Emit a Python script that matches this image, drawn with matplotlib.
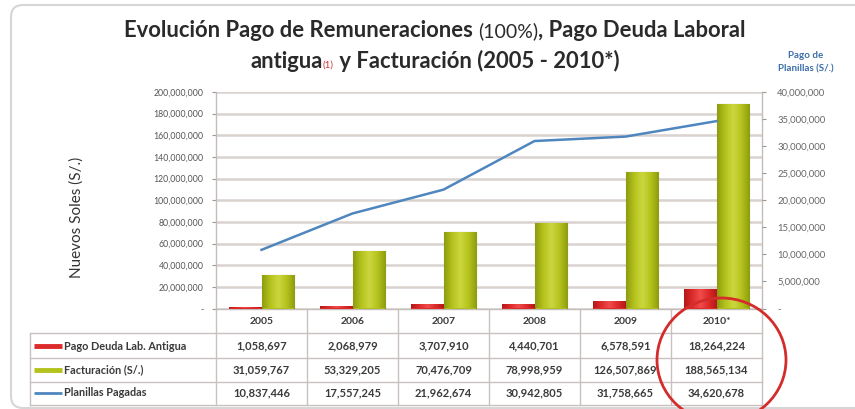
import matplotlib
matplotlib.use('Agg')
import numpy as np
import matplotlib.pyplot as plt
import matplotlib.transforms as mtransforms
from matplotlib.patches import Ellipse, FancyBboxPatch
from matplotlib.lines import Line2D
from matplotlib.colors import LinearSegmentedColormap
from matplotlib.ticker import FuncFormatter, MultipleLocator

plt.rcParams['font.family'] = ['Lato', 'DejaVu Sans']

years = ['2005', '2006', '2007', '2008', '2009', '2010*']
pago_deuda = [1058697, 2068979, 3707910, 4440701, 6578591, 18264224]
facturacion = [31059767, 53329205, 70476709, 78998959, 126507869, 188565134]
planillas = [10837446, 17557245, 21962674, 30942805, 31758665, 34620678]
series_labels = ['Pago Deuda Lab. Antigua', 'Facturación (S/.)', 'Planillas Pagadas']

RED = '#dd2a2a'
GREEN = '#b4c21c'
GREEN_EDGE = '#7d8c10'
BLUE = '#4f86bf'
GRID = '#d9d2cf'
TXT = '#3a3a3a'

W, H = 855, 409
fig = plt.figure(figsize=(W / 100, H / 100), dpi=100)
fig.patch.set_facecolor('white')


def fx(x):
    return x / W


def fy(y):
    return 1 - y / H


# outer rounded frame
frame = FancyBboxPatch((11, 1), 870, 403, boxstyle='round,pad=0,rounding_size=12',
                       transform=mtransforms.IdentityTransform(), facecolor='white',
                       edgecolor='#d6d6d6', linewidth=1.5, zorder=0)
fig.patches.append(frame)

ax = fig.add_axes([fx(216), fy(308.5), fx(762) - fx(216), fy(92) - fy(308.5)])
ax.set_zorder(2)
ax.patch.set_alpha(0)
x = list(range(len(years)))
bw = 0.36
red_bars = ax.bar([i - bw / 2 for i in x], pago_deuda, width=bw, color=RED,
                  edgecolor='#b01818', linewidth=0.6, zorder=3)
green_bars = ax.bar([i + bw / 2 for i in x], facturacion, width=bw, color=GREEN,
                    edgecolor=GREEN_EDGE, linewidth=0.8, zorder=3)
ax.set_xlim(-0.5, len(years) - 0.5)
ax.set_ylim(0, 200e6)

# shaded (cylinder-like) fill for bars
grad = np.abs(np.linspace(-1, 1, 64))[None, :]
g_cmap = LinearSegmentedColormap.from_list('g', ['#cbd63e', '#b4c21c', '#8e9c10'])
r_cmap = LinearSegmentedColormap.from_list('r', ['#f04a4a', '#dd2a2a', '#b41818'])
for bars, cm in [(green_bars, g_cmap), (red_bars, r_cmap)]:
    for b in bars:
        x0, y0 = b.get_x(), b.get_y()
        im = ax.imshow(grad, cmap=cm, aspect='auto', zorder=3.5,
                       extent=(x0, x0 + b.get_width(), y0, y0 + b.get_height()),
                       interpolation='bicubic')
        im.set_clip_path(b)
ax.set_xlim(-0.5, len(years) - 0.5)
ax.set_ylim(0, 200e6)

ax.yaxis.set_major_locator(MultipleLocator(20e6))
ax.yaxis.set_major_formatter(FuncFormatter(lambda v, p: '-' if v == 0 else f'{int(v):,}'))
ax.grid(axis='y', color=GRID, linewidth=1.8, zorder=0)
ax.set_axisbelow(True)
ax.set_xticks([])
ax.tick_params(axis='y', labelsize=6.3, labelcolor='#555555', color='#999999', length=3,
               width=0.8, pad=6)
ax.spines['top'].set_visible(False)
for s in ['left', 'right', 'bottom']:
    ax.spines[s].set_color('#c4bcb8')
    ax.spines[s].set_linewidth(1.0)

ax2 = ax.twinx()
ax2.plot(x, planillas, color=BLUE, linewidth=1.8, zorder=5)
ax2.set_ylim(0, 40e6)
ax2.yaxis.set_major_locator(MultipleLocator(5e6))
ax2.yaxis.set_major_formatter(FuncFormatter(lambda v, p: '-' if v == 0 else f'{int(v):,}'))
ax2.tick_params(axis='y', labelsize=6.8, labelcolor='#666666', color='#999999', length=3,
                width=0.8, pad=8)
for s in ax2.spines.values():
    s.set_visible(False)
ax2.set_zorder(3)

# y labels
fig.text(fx(77), fy(217), 'Nuevos Soles (S/.)', rotation=90, ha='center', va='center',
         fontsize=11, color='#333333')
fig.text(fx(806), fy(62), 'Pago de\nPlanillas (S/.)', ha='center', va='center',
         fontsize=7, color='#3a6ea8', fontweight='bold', linespacing=1.6)

# title, built from pieces
renderer = fig.canvas.get_renderer()


def title_line(pieces, cx, cy):
    arts = []
    for txt, kw in pieces:
        t = fig.text(0, fy(cy), txt, ha='left', va='baseline', **kw)
        arts.append(t)
    widths = [a.get_window_extent(renderer).width for a in arts]
    total = sum(widths)
    start = cx - total / 2
    for a, w_ in zip(arts, widths):
        a.set_x(fx(start))
        start += w_


bold = dict(fontsize=15.8, fontweight='bold', color='#2a2a2a')
title_line([('Evolución Pago de Remuneraciones ', bold),
            ('(100%)', dict(fontsize=14, color='#2a2a2a')),
            (', Pago Deuda Laboral', bold)], 435, 37)
title_line([('antigua', bold),
            ('(1)', dict(fontsize=7, color='#d03030')),
            (' y Facturación (2005 - 2010*)', bold)], 435, 68)

# data table
tr = mtransforms.blended_transform_factory(ax.transData, fig.transFigure)
LINE_C = '#c9c1bd'
row_lines = [333, 358, 381.5, 405]
row_centers = [346, 370, 393]
for yy in row_lines:
    fig.add_artist(Line2D([fx(30), fx(762)], [fy(yy), fy(yy)], color=LINE_C, linewidth=1.0,
                          transform=fig.transFigure))
for i in range(len(years) + 1):
    fig.add_artist(Line2D([i - 0.5, i - 0.5], [fy(308.5), fy(405)], color=LINE_C,
                          linewidth=1.0, transform=tr))
fig.add_artist(Line2D([fx(30), fx(30)], [fy(333), fy(405)], color=LINE_C, linewidth=1.0,
                      transform=fig.transFigure))

for i, yr in enumerate(years):
    fig.text(i, fy(321), yr, transform=tr, ha='center', va='center', fontsize=7.5,
             fontweight='bold', color=TXT)

series = [pago_deuda, facturacion, planillas]
key_colors = [RED, GREEN, BLUE]
key_lw = [3.5, 3.5, 2.0]
for r, (lab, vals) in enumerate(zip(series_labels, series)):
    yc = row_centers[r]
    fig.add_artist(Line2D([fx(34), fx(62)], [fy(yc), fy(yc)], color=key_colors[r],
                          linewidth=key_lw[r], transform=fig.transFigure, solid_capstyle='butt'))
    fig.text(fx(64), fy(yc), lab, ha='left', va='center', fontsize=7.8, fontweight='bold',
             color=TXT)
    for i, v in enumerate(vals):
        fig.text(i, fy(yc), f'{v:,}', transform=tr, ha='center', va='center', fontsize=8,
                 fontweight='bold', color=TXT)

# red highlight circle around 2010*
circ = Ellipse((fx(721.5), fy(360)), width=129 / W, height=124 / H, transform=fig.transFigure,
               fill=False, edgecolor='#d42b2b', linewidth=2.0, zorder=10)
fig.add_artist(circ)

fig.savefig('out.png', dpi=100, facecolor='white')
